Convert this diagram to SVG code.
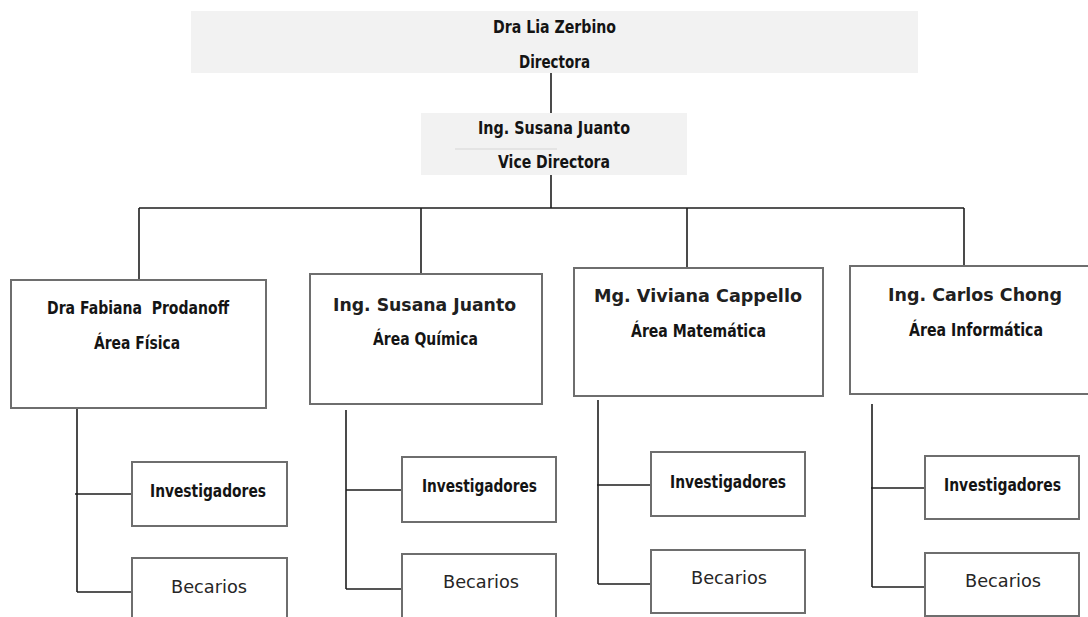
<svg xmlns="http://www.w3.org/2000/svg" width="1088" height="617" viewBox="0 0 1088 617">
<style>
.bg{fill:#ffffff}
.hdr{fill:#f2f2f2;stroke:none}
.box{fill:#ffffff;stroke:#6e6e6e;stroke-width:2}
.con{stroke:#1e1e1e;stroke-width:1.6;fill:none}
.b{font-family:"DejaVu Sans",sans-serif;font-weight:bold;font-size:18px;fill:#141414;text-anchor:middle;white-space:pre}
.r{font-family:"DejaVu Sans",sans-serif;font-weight:normal;font-size:18px;fill:#262626;text-anchor:middle;white-space:pre}
.rm{font-family:"DejaVu Sans",sans-serif;font-weight:600;font-size:17.5px;fill:#202020;text-anchor:middle;white-space:pre}
</style>
<rect class="bg" x="0" y="0" width="1088" height="617"/>
<g id="connectors">
<path class="con" d="M551 73V113M551 175V208M139 208H964M139 208V280M421 208V274M687 208V268M964 208V266"/>
<path class="con" d="M77 408V592M75 494H132M77 592H132"/>
<path class="con" d="M346 410V589M346 490H402M346 589H402"/>
<path class="con" d="M598 400V584M597 485H651M598 584H651"/>
<path class="con" d="M872 404V587M871 488H925M872 587H925"/>
</g>
<g id="directora">
<rect class="hdr" x="191" y="11" width="727" height="62"/>
<text class="b" x="554.5" y="33" textLength="123" lengthAdjust="spacingAndGlyphs">Dra Lia Zerbino</text>
<text class="b" x="554.5" y="68" textLength="71" lengthAdjust="spacingAndGlyphs">Directora</text>
</g>
<g id="vicedirectora">
<rect class="hdr" x="421" y="113" width="266" height="62"/>
<line x1="455" y1="149" x2="557" y2="149" stroke="#d6d6d6" stroke-width="1"/>
<text class="b" x="554" y="134" textLength="152" lengthAdjust="spacingAndGlyphs">Ing. Susana Juanto</text>
<text class="b" x="554" y="168" textLength="112" lengthAdjust="spacingAndGlyphs">Vice Directora</text>
</g>
<g id="fisica">
<rect class="box" x="11" y="280" width="255" height="128"/>
<text class="b" x="138" y="314" textLength="182" lengthAdjust="spacingAndGlyphs">Dra Fabiana  Prodanoff</text>
<text class="b" x="137" y="349" textLength="86" lengthAdjust="spacingAndGlyphs">Área Física</text>
</g>
<g id="quimica">
<rect class="box" x="310" y="274" width="232" height="130"/>
<text class="rm" x="424.5" y="311" textLength="183" lengthAdjust="spacingAndGlyphs">Ing. Susana Juanto</text>
<text class="b" x="425.5" y="345" textLength="105" lengthAdjust="spacingAndGlyphs">Área Química</text>
</g>
<g id="matematica">
<rect class="box" x="574" y="268" width="249" height="128"/>
<text class="rm" x="698" y="302" textLength="208" lengthAdjust="spacingAndGlyphs">Mg. Viviana Cappello</text>
<text class="b" x="698.5" y="337" textLength="135" lengthAdjust="spacingAndGlyphs">Área Matemática</text>
</g>
<g id="informatica">
<rect class="box" x="850" y="266" width="245" height="128"/>
<text class="rm" x="975" y="301" textLength="174" lengthAdjust="spacingAndGlyphs">Ing. Carlos Chong</text>
<text class="b" x="976" y="336" textLength="134" lengthAdjust="spacingAndGlyphs">Área Informática</text>
</g>
<g id="inv1">
<rect class="box" x="132" y="462" width="155" height="64"/>
<text class="b" x="208" y="497" textLength="116" lengthAdjust="spacingAndGlyphs">Investigadores</text>
</g>
<g id="bec1">
<rect class="box" x="132" y="558" width="155" height="70"/>
<text class="r" x="209" y="593" textLength="76" lengthAdjust="spacingAndGlyphs">Becarios</text>
</g>
<g id="inv2">
<rect class="box" x="402" y="457" width="154" height="65"/>
<text class="b" x="479.5" y="492" textLength="115" lengthAdjust="spacingAndGlyphs">Investigadores</text>
</g>
<g id="bec2">
<rect class="box" x="402" y="554" width="154" height="70"/>
<text class="r" x="481" y="588" textLength="76" lengthAdjust="spacingAndGlyphs">Becarios</text>
</g>
<g id="inv3">
<rect class="box" x="651" y="452" width="154" height="64"/>
<text class="b" x="728" y="488" textLength="116" lengthAdjust="spacingAndGlyphs">Investigadores</text>
</g>
<g id="bec3">
<rect class="box" x="651" y="550" width="154" height="63"/>
<text class="r" x="729" y="584" textLength="76" lengthAdjust="spacingAndGlyphs">Becarios</text>
</g>
<g id="inv4">
<rect class="box" x="925" y="456" width="154" height="63"/>
<text class="b" x="1002.5" y="491" textLength="117" lengthAdjust="spacingAndGlyphs">Investigadores</text>
</g>
<g id="bec4">
<rect class="box" x="925" y="553" width="154" height="63"/>
<text class="r" x="1003" y="587" textLength="76" lengthAdjust="spacingAndGlyphs">Becarios</text>
</g>
</svg>
